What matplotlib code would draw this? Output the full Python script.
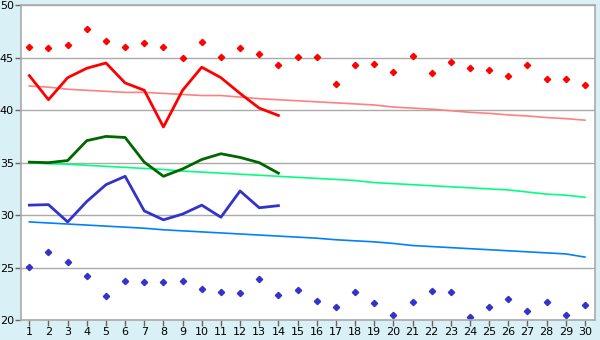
import matplotlib
matplotlib.use("Agg")
import matplotlib.pyplot as plt

days = list(range(1, 31))
days_obs = list(range(1, 15))

# max temps (dots) and trend
red_dots = [46.0, 45.9, 46.2, 47.7, 46.6, 46.0, 46.4, 46.0, 45.0, 46.5,
            45.1, 45.9, 45.4, 44.3, 45.1, 45.1, 42.5, 44.3, 44.4, 43.6,
            45.2, 43.5, 44.6, 44.0, 43.8, 43.3, 44.3, 43.0, 43.0, 42.4]
red_line = [43.3, 41.0, 43.1, 44.0, 44.5, 42.6, 41.9, 38.4, 41.9, 44.1,
            43.1, 41.6, 40.2, 39.5]
pink_trend = [42.3, 42.2, 42.0, 41.9, 41.8, 41.7, 41.7, 41.6, 41.5, 41.4,
              41.4, 41.25, 41.1, 41.0, 40.9, 40.8, 40.7, 40.6, 40.5, 40.3,
              40.2, 40.1, 39.95, 39.8, 39.7, 39.55, 39.45, 39.3, 39.2, 39.05]

# mean
green_line = [35.05, 35.0, 35.2, 37.1, 37.5, 37.4, 35.05, 33.7, 34.4, 35.3,
              35.85, 35.5, 35.0, 34.0]
green_trend = [35.0, 34.9, 34.85, 34.75, 34.65, 34.55, 34.45, 34.35, 34.2, 34.1,
               34.0, 33.9, 33.8, 33.7, 33.6, 33.5, 33.4, 33.3, 33.1, 33.0,
               32.9, 32.8, 32.7, 32.6, 32.5, 32.4, 32.2, 32.0, 31.9, 31.7]

# min temps
blue_line = [30.95, 31.0, 29.35, 31.3, 32.9, 33.7, 30.4, 29.55, 30.1, 30.95,
             29.8, 32.3, 30.7, 30.9]
blue_trend = [29.35, 29.25, 29.15, 29.05, 28.95, 28.85, 28.75, 28.6, 28.5, 28.4,
              28.3, 28.2, 28.1, 28.0, 27.9, 27.8, 27.65, 27.55, 27.45, 27.3,
              27.1, 27.0, 26.9, 26.8, 26.7, 26.6, 26.5, 26.4, 26.3, 26.0]
blue_dots = [25.05, 26.5, 25.5, 24.2, 22.3, 23.7, 23.6, 23.6, 23.7, 23.0,
             22.66, 22.57, 23.9, 22.4, 22.9, 21.8, 21.24, 22.66, 21.6, 20.48,
             21.7, 22.76, 22.66, 20.3, 21.24, 22.0, 20.86, 21.7, 20.48, 21.43]

bg = "#D9F0F7"
grid_c = "#AAAAAA"

fig = plt.figure(figsize=(6, 3.4), dpi=100, facecolor=bg)
ax = fig.add_axes([0.0345, 0.0588, 0.957, 0.9256])
ax.set_facecolor("white")

ax.plot(days, pink_trend, color="#FF8080", lw=1.2)
ax.plot(days, green_trend, color="#00FF80", lw=1.2)
ax.plot(days, blue_trend, color="#0080FF", lw=1.2)

ax.plot(days_obs, red_line, color="#FF0000", lw=2)
ax.plot(days_obs, green_line, color="#006600", lw=2)
ax.plot(days_obs, blue_line, color="#3333CC", lw=2)

ax.plot(days, red_dots, ls="none", marker="D", ms=3.2, color="#FF0000")
ax.plot(days, blue_dots, ls="none", marker="D", ms=3.2, color="#3333CC")

ax.set_xlim(0.55, 30.52)
ax.set_ylim(20, 50)
ax.set_xticks(days)
ax.set_yticks([20, 25, 30, 35, 40, 45, 50])
ax.yaxis.grid(True, color=grid_c, lw=1)
ax.set_axisbelow(True)
for s in ax.spines.values():
    s.set_color(grid_c)
    s.set_linewidth(1.2)
ax.tick_params(axis="both", colors="#666666", labelcolor="black", labelsize=8)
ax.tick_params(axis="x", length=4, width=1, pad=1)
ax.tick_params(axis="y", length=4, width=1, pad=1)

fig.savefig("out.png", dpi=100, facecolor=bg)
